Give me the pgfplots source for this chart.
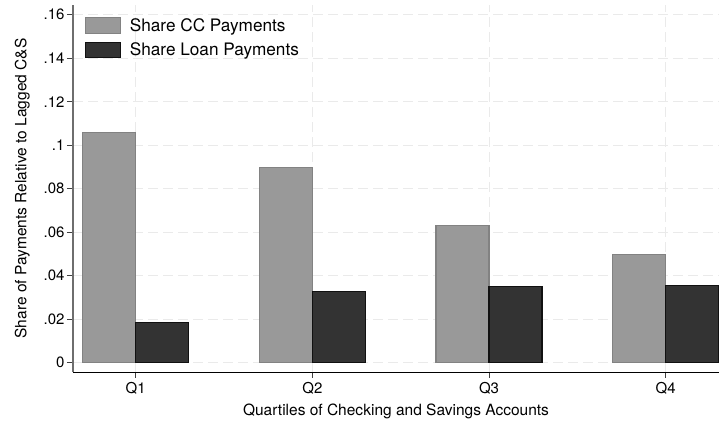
\documentclass[border=0pt]{standalone}
\usepackage{pgfplots}
\pgfplotsset{compat=1.18}
\usepackage{fontspec}
\setmainfont{TeX Gyre Heros}

\definecolor{ccgray}{HTML}{999999}
\definecolor{ccedge}{HTML}{828282}
\definecolor{loanfill}{HTML}{333333}
\definecolor{loanedge}{HTML}{111111}
\definecolor{gridgray}{HTML}{EAEAEA}
\definecolor{yaxisgray}{HTML}{6E6E6E}

\newcommand{\legendgap}{\hspace*{8.5pt}}

\begin{document}
\begin{tikzpicture}
\begin{axis}[
  scale only axis,
  width=646pt, height=367pt,
  xmin=0.645, xmax=4.302,
  ymin=-0.00428, ymax=0.1645,
  axis x line=bottom,
  axis y line=left,
  x axis line style={-, black, line width=0.9pt},
  y axis line style={-, yaxisgray, line width=1.3pt},
  xtick={1,2,3,4},
  xticklabels={Q1,Q2,Q3,Q4},
  ytick={0,0.02,0.04,0.06,0.08,0.10,0.12,0.14,0.16},
  yticklabels={0,.02,.04,.06,.08,.1,.12,.14,.16},
  tick align=outside,
  major tick length=6pt,
  tick style={black!75, line width=0.8pt},
  x tick label style={font=\fontsize{15}{18}\selectfont, yshift=-1pt},
  y tick label style={font=\fontsize{15}{18}\selectfont, xshift=1pt},
  /pgf/number format/assume math mode=true,
  xmajorgrids, ymajorgrids,
  major grid style={gridgray, line width=0.9pt, dash pattern=on 10pt off 5pt},
  xlabel={Quartiles of Checking and Savings Accounts},
  ylabel={Share of Payments Relative to Lagged C\&S},
  label style={font=\fontsize{15.5}{18}\selectfont},
  xlabel style={yshift=-3pt},
  ylabel style={yshift=7pt},
  ybar, bar width=0.3,
  legend style={
    draw=none, fill=none,
    at={(0.019,0.9665)}, anchor=north west,
    inner sep=0pt, outer sep=0pt,
    nodes={inner sep=0pt},
    row sep=8pt,
    font=\fontsize{17.2}{20}\selectfont,
  },
  legend cell align=left,
  legend image code/.code={%
    \draw[#1, bar shift=0pt] (0pt,-7.7pt) rectangle (35pt,7.7pt);},
]
% Credit card payments share, by quartile
\addplot[fill=ccgray, draw=ccedge, line width=1.1pt, bar shift=-0.15]
  coordinates {(1,0.1059) (2,0.0898) (3,0.0632) (4,0.0498)};
% Loan payments share, by quartile
\addplot[fill=loanfill, draw=loanedge, line width=1.1pt, bar shift=0.15]
  coordinates {(1,0.0184) (2,0.0328) (3,0.0349) (4,0.0354)};
\legend{\legendgap Share CC Payments, \legendgap Share Loan Payments}
\end{axis}
\pgfresetboundingbox
\path ([xshift=-73pt,yshift=-51pt]current axis.south west)
  rectangle ([yshift=5pt]current axis.north east);
\end{tikzpicture}
\end{document}
